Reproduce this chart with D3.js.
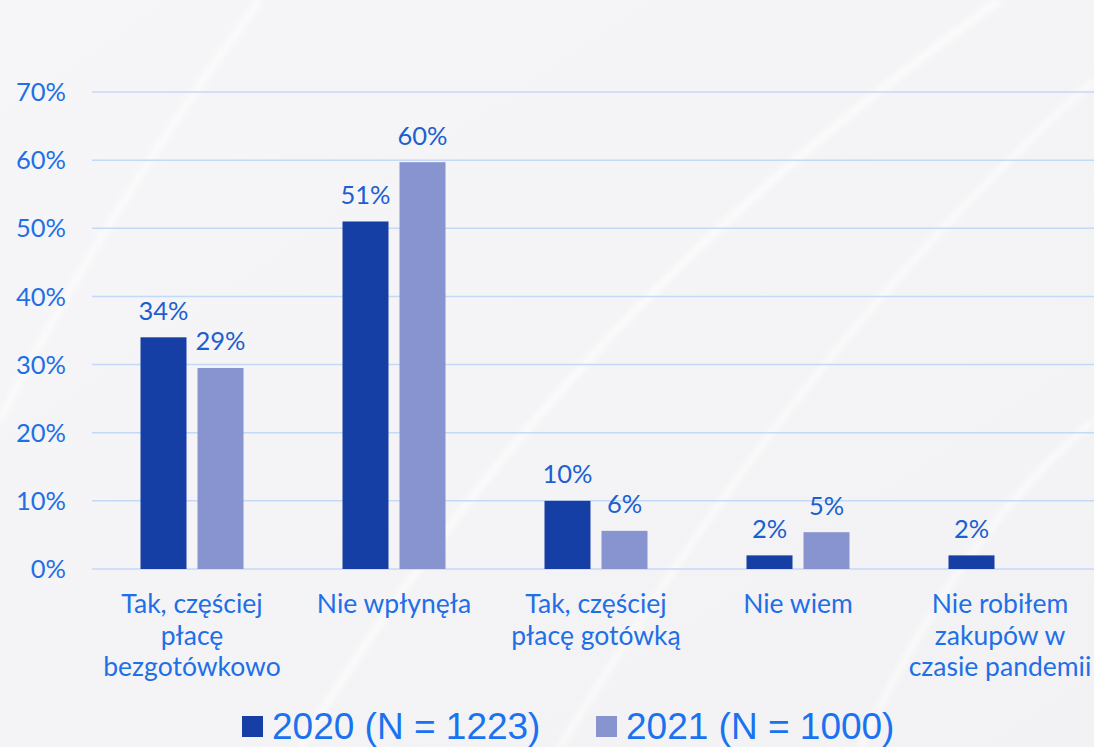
<!DOCTYPE html>
<html><head><meta charset="utf-8">
<script src="https://cdn.jsdelivr.net/npm/d3@7"></script>
<style>body{margin:0;background:#f4f4f6;}svg{display:block;}</style>
</head><body>
<svg id="c" width="1094" height="747"></svg>
<script>
const categories = [["Tak, częściej","płacę","bezgotówkowo"],["Nie wpłynęła"],["Tak, częściej","płacę gotówką"],["Nie wiem"],["Nie robiłem","zakupów w","czasie pandemii"]];
const series2020 = [34, 51, 10, 2, 2];
const series2021 = [29.5, 59.7, 5.6, 5.4, null];
const labels2020 = ["34%","51%","10%","2%","2%"];
const labels2021 = ["29%","60%","6%","5%",""];
const yTicks = [0,10,20,30,40,50,60,70];
const seriesNames = ["2020 (N = 1223)","2021 (N = 1000)"];

const svg = d3.select("#c");
const W=1094,H=747;
const defs = svg.append("defs");
const g1 = defs.append("linearGradient").attr("id","bg").attr("x1","0").attr("y1","0").attr("x2","1").attr("y2","1");
g1.append("stop").attr("offset","0").attr("stop-color","#f6f6f8");
g1.append("stop").attr("offset","1").attr("stop-color","#f2f2f4");
defs.append("filter").attr("id","blur").append("feGaussianBlur").attr("stdDeviation",3);
svg.append("rect").attr("width",W).attr("height",H).attr("fill","url(#bg)");
// subtle swirls
const sw = svg.append("g").attr("fill","none").attr("stroke","#ffffff").attr("opacity",0.8).attr("filter","url(#blur)");
sw.append("path").attr("d","M300,747 C450,500 650,250 1000,0").attr("stroke-width",6);
sw.append("path").attr("d","M560,747 C700,520 850,300 1094,80").attr("stroke-width",5);
sw.append("path").attr("d","M0,420 C60,300 150,150 260,0").attr("stroke-width",5);
sw.append("path").attr("d","M860,747 C930,600 1000,500 1094,420").attr("stroke-width",5);

const x = d3.scaleBand().domain(d3.range(5)).range([91,1101]);
const y = d3.scaleLinear().domain([0,70]).range([569,92]);
const textColor = "#1f6fe6";
const labelColor = "#1d5fcf";
const c2020 = "#163fa6", c2021 = "#8894cf";

// grid
svg.append("g").selectAll("line").data(yTicks).join("line")
  .attr("x1",92).attr("x2",W).attr("y1",d=>y(d)).attr("y2",d=>y(d))
  .attr("stroke","#c4d8f7").attr("stroke-width",1.5);

// y labels
svg.append("g").selectAll("text").data(yTicks).join("text")
  .attr("x",66).attr("y",d=>y(d)).attr("dy","0.36em").attr("text-anchor","end")
  .attr("font-family","Lato").attr("font-size",25.5).attr("fill",textColor).text(d=>d+"%");

const bw = 46, gap = 11;
const cx = i => x(i)+x.bandwidth()/2;
// bars
svg.append("g").selectAll("rect").data(series2020).join("rect")
  .attr("x",(d,i)=>cx(i)-gap/2-bw).attr("width",bw)
  .attr("y",d=>y(d)).attr("height",d=>y(0)-y(d)).attr("fill",c2020);
svg.append("g").selectAll("rect").data(series2021.map((v,i)=>({v,i})).filter(d=>d.v!=null)).join("rect")
  .attr("x",d=>cx(d.i)+gap/2).attr("width",bw)
  .attr("y",d=>y(d.v)).attr("height",d=>y(0)-y(d.v)).attr("fill",c2021);

// data labels
svg.append("g").selectAll("text").data(series2020).join("text")
  .attr("x",(d,i)=>cx(i)-gap/2-bw/2).attr("y",d=>y(d)-17.5).attr("text-anchor","middle")
  .attr("font-family","Lato").attr("font-size",25.5).attr("fill",labelColor).text((d,i)=>labels2020[i]);
svg.append("g").selectAll("text").data(series2021.map((v,i)=>({v,i})).filter(d=>d.v!=null)).join("text")
  .attr("x",d=>cx(d.i)+gap/2+bw/2).attr("y",d=>y(d.v)-17.5).attr("text-anchor","middle")
  .attr("font-family","Lato").attr("font-size",25.5).attr("fill",labelColor).text(d=>labels2021[d.i]);

// category labels
const cg = svg.append("g");
categories.forEach((lines,i)=>{
  const t = cg.append("text").attr("x",cx(i)).attr("y",613).attr("text-anchor","middle")
    .attr("font-family","Lato").attr("font-size",26.5).attr("fill",textColor);
  lines.forEach((l,j)=>t.append("tspan").attr("x",cx(i)).attr("dy",j===0?0:31.5).text(l));
});

// legend
const lg = svg.append("g");
const legItems = [{n:seriesNames[0],c:c2020,x:242},{n:seriesNames[1],c:c2021,x:596}];
legItems.forEach(d=>{
  lg.append("rect").attr("x",d.x).attr("y",716).attr("width",21).attr("height",21).attr("fill",d.c);
  lg.append("text").attr("x",d.x+30).attr("y",739).attr("font-family","Liberation Sans, Arial, sans-serif")
    .attr("font-size",37).attr("fill","#1a72f0").text(d.n);
});
</script>
</body></html>
